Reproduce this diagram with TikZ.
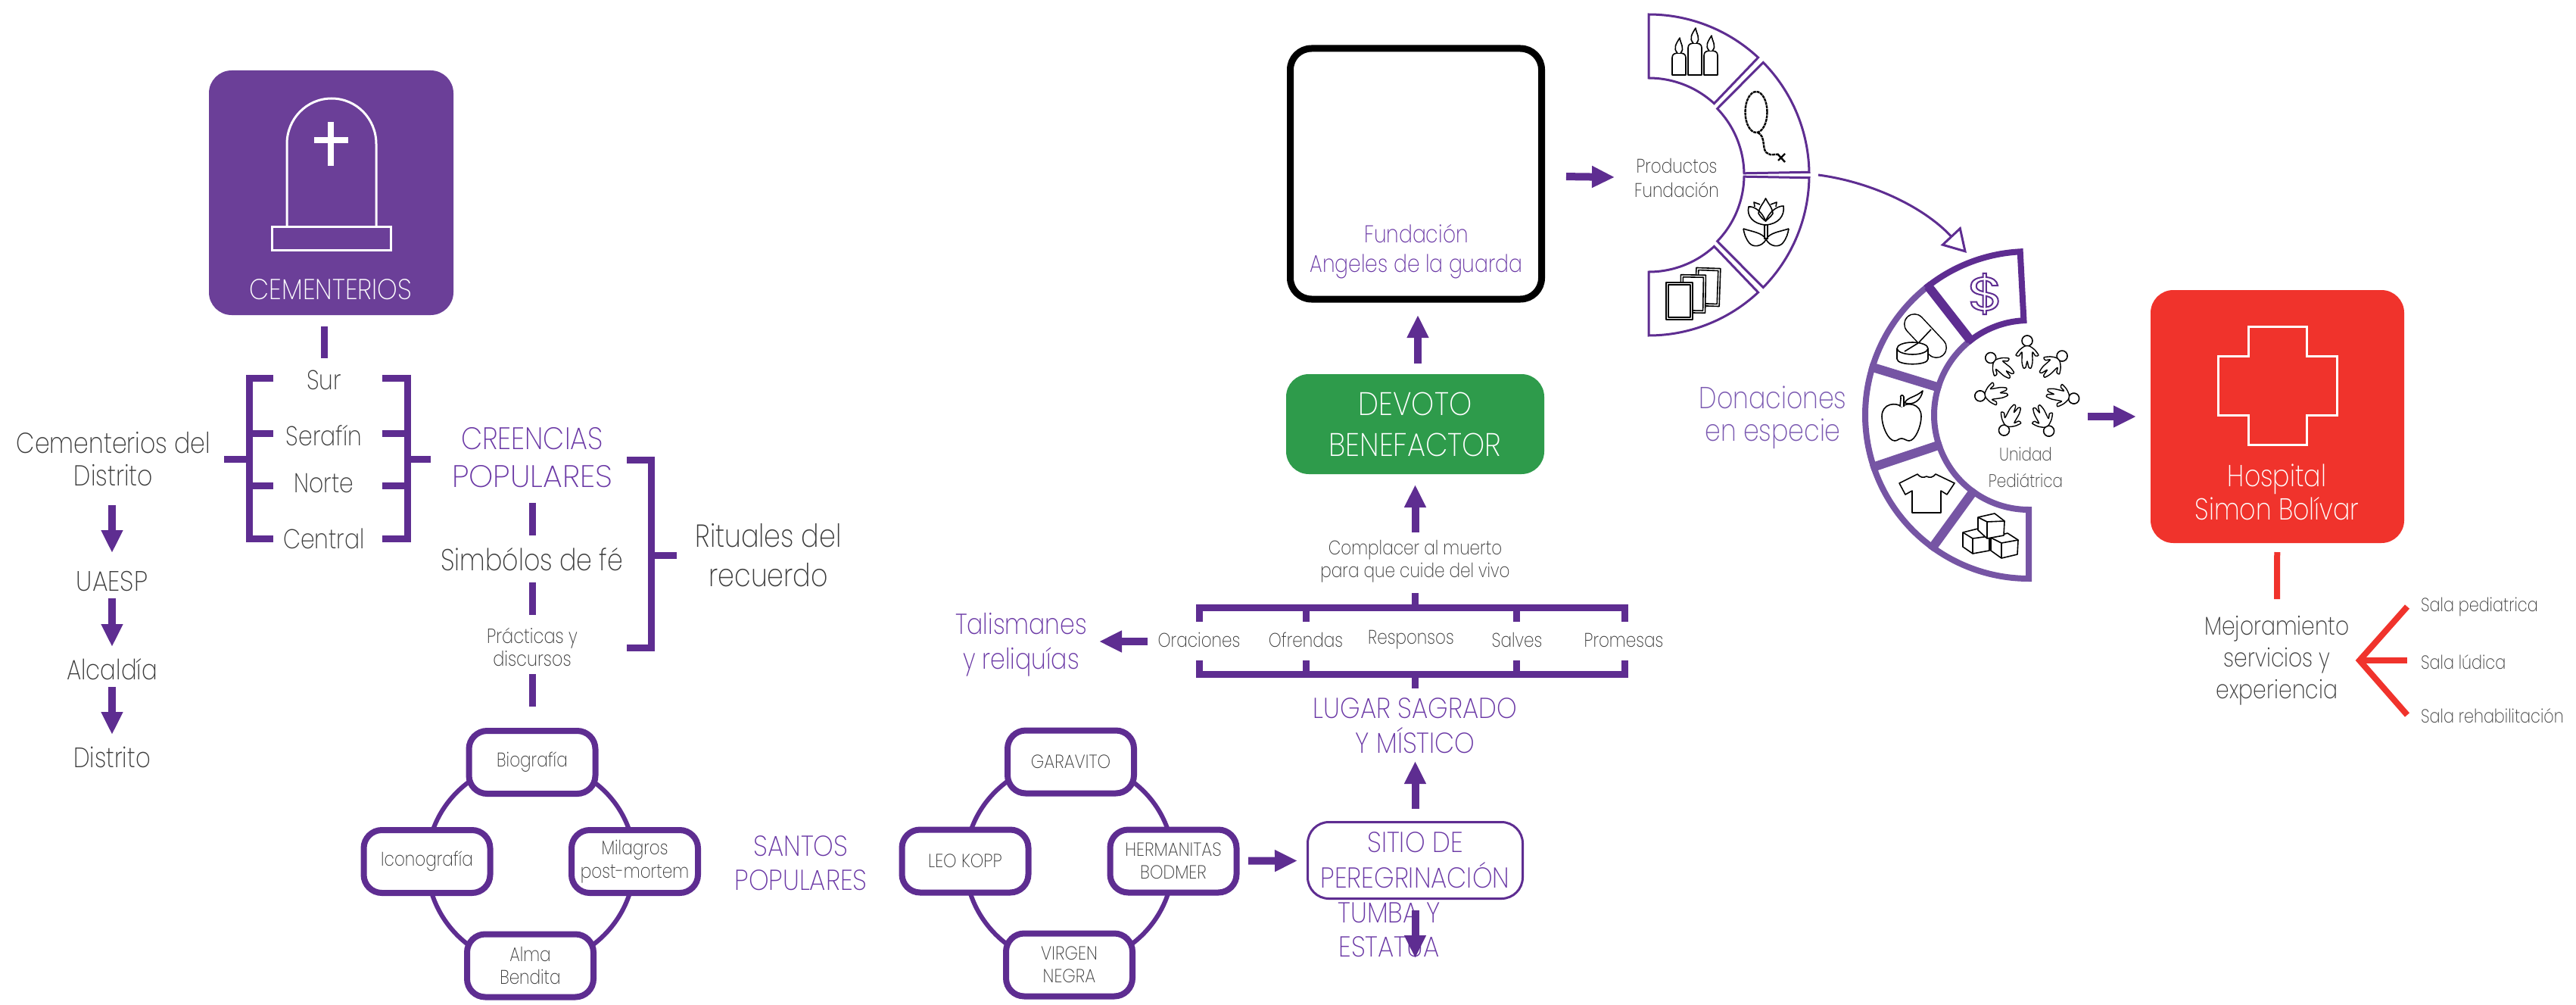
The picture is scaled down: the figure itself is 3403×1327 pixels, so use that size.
\documentclass[tikz,border=0pt]{standalone}
\usepackage{fontspec}
\usetikzlibrary{arrows.meta}
\newfontfamily\lightf{Poppins ExtraLight}[FakeStretch=0.83]
\newfontfamily\capf{Poppins ExtraLight}[FakeStretch=0.89]
\newfontfamily\capwf{Poppins ExtraLight}[FakeStretch=1.0]
\newfontfamily\boldf{Poppins}[FakeStretch=1.25]
\newcommand{\fs}[2]{\lightf\fontsize{#1}{#2}\selectfont}
\newcommand{\fc}[2]{\capf\fontsize{#1}{#2}\selectfont}
\definecolor{dpurple}{HTML}{5E2D91}
\definecolor{mpurple}{HTML}{7655A4}
\definecolor{cempurple}{HTML}{6B3F98}
\definecolor{tpurple}{HTML}{6A38A5}
\definecolor{lpurple}{HTML}{7A58B0}
\definecolor{tgray}{HTML}{3C3C3C}
\definecolor{hred}{HTML}{F0332C}
\definecolor{dgreen}{HTML}{2E9B4B}
\pgfdeclarelayer{behind}
\pgfsetlayers{behind,main}
\tikzset{
  lbl/.style={text=tgray,align=center,inner sep=0pt},
  plbl/.style={text=tpurple,align=center,inner sep=0pt},
  wlbl/.style={text=white,align=center,inner sep=0pt},
  santo/.style={draw=dpurple,line width=8pt,fill=white,rounded corners=24pt,minimum width=167pt,minimum height=83pt,inner sep=0pt,text=tgray,align=center},
  solidbox/.style={draw=none,rounded corners=30pt,inner sep=0pt},
  barrow/.style={draw=dpurple,line width=10pt,-{Triangle[length=30pt,width=27pt,fill=dpurple]}},
  brk/.style={draw=dpurple,line width=9pt,miter limit=10},
  ringline/.style={draw=dpurple,line width=6pt},
  redline/.style={draw=hred,line width=8pt},
  wline/.style={draw=white,line width=3pt},
  icon/.style={draw=black,line width=1.6pt,fill=white,line join=round},
  prodseg/.style={draw=dpurple,line width=3pt,fill=white,miter limit=10},
  donseg/.style={draw=mpurple,line width=8pt,fill=white,miter limit=10},
  donsegd/.style={draw=dpurple,line width=8pt,fill=white,miter limit=10},
}
\newcommand{\annseg}[9]{\draw[#1] plot[domain=#5:#6,samples=30] ({#2+#4*cos(\x)},{#3-#4*sin(\x)}) -- plot[domain=#8:#9,samples=30] ({#2+#7*cos(\x)},{#3-#7*sin(\x)}) -- cycle;}
\newcommand{\ansep}[6]{\draw[#1,line width=12pt] ({#2+#4*cos(#6)},{#3-#4*sin(#6)}) -- ({#2+#5*cos(#6)},{#3-#5*sin(#6)});}
\begin{document}
\begin{tikzpicture}[x=1pt,y=-1pt]
\useasboundingbox (0,0) rectangle (3403,1327);
% ---------- Cementerios
\node[solidbox,fill=cempurple,minimum width=323pt,minimum height=323pt] (cem) at (437.5,254.5) {};
\draw[wline,line join=miter] (379,299) -- (379,190) .. controls (379,157) and (405,130) .. (438,130) .. controls (471,130) and (497,157) .. (497,190) -- (497,299);
\draw[wline] (359,299) rectangle (516,330);
\draw[draw=white,line width=8pt] (437,161) -- (437,219) (415,185) -- (460,185);
\node[wlbl,font=\fc{38}{40}] (cemt) at (437,382) {CEMENTERIOS};
\node[lbl,font=\fs{36}{40}] (sur) at (428,502) {Sur};
\node[lbl,font=\fs{36}{40}] (ser) at (428,575) {Serafín};
\node[lbl,font=\fs{36}{40}] (nor) at (428,638) {Norte};
\node[lbl,font=\fs{36}{40}] (cen) at (428,711) {Central};
\node[lbl,font=\fs{38}{43}] (cdis) at (150,606) {Cementerios del\\Distrito};
\node[lbl,font=\fc{37}{40}] (uae) at (148,768) {UAESP};
\node[lbl,font=\fs{37}{40}] (alc) at (148,884) {Alcaldía};
\node[lbl,font=\fs{37}{40}] (dis) at (148,1000) {Distrito};
\draw[barrow,shorten <=61pt,shorten >=38pt] ([xshift=-2pt]cdis.center) -- (uae.center);
\draw[barrow,shorten <=22pt,shorten >=30pt] (uae.center) -- (alc.center);
\draw[barrow,shorten <=23pt,shorten >=30pt] (alc.center) -- (dis.center);
\draw[brk,shorten <=176.5pt,shorten >=29pt] ([xshift=-9.5pt]cem.center) -- ([yshift=0pt]sur.center);
\coordinate (lb) at (329,606);
\coordinate (rb) at (538,606);
\draw[brk] (361,499) -- (329,499) -- (329,711) -- (361,711);
\draw[brk] (505,499) -- (538,499) -- (538,711) -- (505,711);
\foreach \yy in {572,641} {\draw[brk] (329,\yy) -- (361,\yy); \draw[brk] (505,\yy) -- (538,\yy);}
\node[plbl,font=\fc{41}{50}] (cre) at (703,604) {CREENCIAS\\{\capwf POPULARES}};
\node[lbl,font=\fs{40}{44}] (sim) at (703,739) {Simbólos de fé};
\node[lbl,font=\fs{27}{30}] (pra) at (703,854) {Prácticas y\\discursos};
\node[lbl,font=\fs{42}{52}] (rit) at (1015,733) {Rituales del\\recuerdo};
\draw[brk,shorten >=146pt] (lb) -- (cdis.center);
\draw[brk,shorten >=134pt] (rb) -- ([yshift=-2pt]cre.center);
\draw[brk] (828,607) -- (860,607) -- (860,855) -- (828,855);
\coordinate (bigb) at (860,733);
\draw[brk,shorten >=121pt] (bigb) -- (rit.center);
\draw[brk,shorten <=60pt,shorten >=32pt] (cre.center) -- (sim.center);
\draw[brk,shorten <=30pt,shorten >=42pt] (sim.center) -- (pra.center);
% ---------- Santos rings
\node[santo,font=\fs{26}{30}] (bio) at (703,1006.5) {Biografía};
\node[santo,font=\fs{26}{30}] (ico) at (564,1137.5) {Iconografía};
\node[santo,font=\fs{26}{31}] (mil) at (838.5,1137.5) {Milagros\\post-mortem};
\node[santo,font=\fs{26}{30}] (alm) at (700.5,1275) {Alma\\Bendita};
\node[santo,font=\fc{25}{30}] (gar) at (1414.5,1006) {GARAVITO};
\node[santo,font=\fc{25}{30}] (leo) at (1275,1137) {LEO KOPP};
\node[santo,font=\fc{25}{30}] (her) at (1550,1137) {HERMANITAS\\BODMER};
\node[santo,font=\fc{25}{30}] (vir) at (1412.5,1274) {VIRGEN\\NEGRA};
\begin{pgfonlayer}{behind}
\draw[ringline] (bio.center) to[bend left=45] (mil.center) to[bend left=45] (alm.center) to[bend left=45] (ico.center) to[bend left=45] (bio.center);
\draw[ringline] (gar.center) to[bend left=45] (her.center) to[bend left=45] (vir.center) to[bend left=45] (leo.center) to[bend left=45] (gar.center);
\end{pgfonlayer}
\draw[brk,shorten <=36pt,shorten >=74pt] (pra.center) -- (bio.center);
\node[plbl,font=\fc{38}{45}] (san) at (1058,1140) {SANTOS\\POPULARES};
\node[draw=dpurple,line width=3pt,rounded corners=28pt,minimum width=284pt,minimum height=101pt,inner sep=0pt,text=tpurple,align=center,font=\fc{38}{47}] (sit) at (1869.5,1136) {SITIO DE\\PEREGRINACIÓN};
\node[plbl,font=\fc{38}{45}] (tum) at (1835,1228) {TUMBA Y\\ESTATUA};
\coordinate (tumtip) at (1869.5,1265);
\draw[barrow,shorten <=99pt,shorten >=155.5pt] (her.center) -- (sit.center);
\draw[barrow,shorten <=66pt] (sit.center) -- (tumtip);
\node[plbl,font=\fc{38}{46}] (lug) at (1869.5,958) {LUGAR SAGRADO\\Y MÍSTICO};
\draw[barrow,shorten <=68pt,shorten >=47pt] (sit.center) -- (lug.center);
% ---------- Ritual bar
\coordinate (bart) at (1869.5,802);
\coordinate (barb) at (1869.5,890);
\draw[brk] (1584,821) -- (1584,802) -- (2146,802) -- (2146,821);
\draw[brk] (1584,872) -- (1584,890) -- (2146,890) -- (2146,872);
\foreach \xx in {1725,2003} {\draw[brk] (\xx,802) -- (\xx,821); \draw[brk] (\xx,890) -- (\xx,872);}
\node[lbl,font=\fs{26}{30}] (ora) at (1584,845) {Oraciones};
\node[lbl,font=\fs{26}{30}] (ofr) at (1725,845) {Ofrendas};
\node[lbl,font=\fs{26}{30}] (res) at (1864,845) {Responsos};
\node[lbl,font=\fs{26}{30}] (sal) at (2004,845) {Salves};
\node[lbl,font=\fs{26}{30}] (pro) at (2145,845) {Promesas};
\node[plbl,font=\fs{38}{46}] (tal) at (1349,851) {Talismanes\\y reliquías};
\draw[barrow,shorten <=68pt,shorten >=103pt] ([yshift=-2pt]ora.center) -- ([yshift=4pt]tal.center);
\node[lbl,font=\fs{26}{30}] (com) at (1869.5,741) {Complacer al muerto\\para que cuide del vivo};
\draw[brk,shorten <=42pt] (com.center) -- (bart);
\draw[brk,shorten <=49pt] (lug.center) -- (barb);
% ---------- Devoto, Fundacion
\node[solidbox,fill=dgreen,minimum width=341pt,minimum height=132pt,text=white,align=center,font=\fc{43}{54}] (dev) at (1869.5,560) {DEVOTO\\BENEFACTOR};
\draw[barrow,shorten <=38pt,shorten >=80pt] (com.center) -- (dev.center);
\node[draw=black,line width=9pt,rounded corners=28pt,minimum width=332pt,minimum height=331pt,inner sep=0pt] (fun) at (1870.5,229.5) {};
\node[plbl,font=\fs{32}{39}] (funt) at (1871,332) {Fundación\\Angeles de la guarda};
\draw[barrow,shorten <=80pt,shorten >=186.5pt] ([xshift=3.5pt]dev.center) -- ([xshift=2.5pt]fun.center);
% ---------- Productos ring
\node[lbl,font=\fs{26}{32}] (prd) at (2215,235) {Productos\\Fundación};
\draw[barrow,shorten <=198.5pt,shorten >=82pt] ([yshift=-1pt]fun.center) -- (prd.center);
\annseg{prodseg}{2178}{231}{212}{90}{47}{128}{47.5}{90}
\annseg{prodseg}{2178}{231}{212}{44.5}{1}{126}{1}{44}
\annseg{prodseg}{2178}{231}{212}{-1}{-44.5}{126}{-44}{-1}
\annseg{prodseg}{2178}{231}{212}{-47}{-90}{128}{-90}{-47.5}
% candles
\foreach \cx/\ty/\tp in {2218/70/50,2239/57/37,2260/67/47} {
  \draw[icon] (\cx-9,99) -- (\cx-9,\ty+6) .. controls (\cx-9,\ty+1) and (\cx-5,\ty) .. (\cx,\ty) .. controls (\cx+5,\ty) and (\cx+9,\ty+1) .. (\cx+9,\ty+6) -- (\cx+9,99) -- cycle;
  \draw[icon] (\cx-2,\ty) .. controls (\cx-8,\ty-6) and (\cx-4,\ty-12) .. (\cx+1,\tp) .. controls (\cx+2,\ty-12) and (\cx+8,\ty-6) .. (\cx+2,\ty);
}
% rosary
\draw[draw=black,line width=2.4pt,dash pattern=on 4pt off 0.8pt] (2320,148) ellipse [x radius=14.5pt,y radius=27pt];
\draw[draw=black,line width=2.4pt,dash pattern=on 4pt off 0.8pt] (2322,175) .. controls (2334,180) and (2326,200) .. (2336,203) .. controls (2340,206) and (2344,203) .. (2349,204);
\draw[draw=black,line width=2.4pt] (2348,203) -- (2358,214) (2358,203) -- (2349,212);
% tulip
\draw[icon] (2318,273) -- (2317,267) -- (2325,270) (2346,273) -- (2347,267) -- (2339,270);
\draw[icon] (2323,282) .. controls (2324,273) and (2330,268) .. (2332.5,262) .. controls (2335,268) and (2341,273) .. (2342,282) .. controls (2338,288) and (2334,290) .. (2332.5,292) .. controls (2330,290) and (2327,288) .. (2323,282);
\draw[icon,fill=none] (2332.5,297) .. controls (2316,296) and (2307,285) .. (2310,273) .. controls (2318,272) and (2328,280) .. (2332.5,292) .. controls (2337,280) and (2347,272) .. (2356,272) .. controls (2358,285) and (2349,296) .. (2332.5,297);
\draw[icon,fill=none] (2331,297) -- (2331,316) (2335,297) -- (2335,316);
\draw[icon,fill=none] (2303,302) .. controls (2315,306) and (2328,307) .. (2333,316) .. controls (2328,326) and (2316,327) .. (2311,321) .. controls (2306,315) and (2304,308) .. (2303,302);
\draw[icon,fill=none] (2363,302) .. controls (2351,306) and (2338,307) .. (2333,316) .. controls (2338,326) and (2350,327) .. (2355,321) .. controls (2360,315) and (2362,308) .. (2363,302);
% cards
\foreach \xa/\ya/\xb/\yb/\rr in {2240/354/2272/404/2,2220/363/2253/413/1,2201/373/2236/422/0} {
  \draw[icon,rotate around={-\rr:({(\xa+\xb)/2},{(\ya+\yb)/2})}] (\xa,\ya) rectangle (\xb,\yb);
  \draw[icon,rotate around={-\rr:({(\xa+\xb)/2},{(\ya+\yb)/2})}] (\xa+3,\ya+3) rectangle (\xb-3,\yb-3);
}
% ---------- Donaciones ring
\annseg{donseg}{2680}{548}{216}{128}{163}{125}{163}{128}
\annseg{donseg}{2680}{548}{216}{163}{198.5}{125}{198.5}{163}
\annseg{donseg}{2680}{548}{216}{198.5}{234}{125}{234}{198.5}
\annseg{donseg}{2680}{548}{216}{234}{270}{125}{270}{234}
\ansep{draw=mpurple}{2680}{548}{125}{216}{163}
\ansep{draw=mpurple}{2680}{548}{125}{216}{198.5}
\ansep{draw=mpurple}{2680}{548}{125}{216}{234}
\annseg{donsegd}{2680}{548}{216}{93}{128}{125}{128}{93}
\ansep{draw=dpurple}{2680}{548}{125}{216}{128}
% dollar
\node[text=dpurple,inner sep=0pt,font=\boldf\fontsize{62}{62}\selectfont] (dol) at (2623,388) {\special{pdf:code 1 Tr 2 w}\$\special{pdf:code 0 Tr 1 w}};
% pills
\draw[draw=black,line width=28pt,line cap=round] (2529,428) -- (2558,459);
\draw[draw=white,line width=25pt,line cap=round] (2529,428) -- (2558,459);
\draw[icon] (2535,452) -- (2551,435);
\draw[icon] (2506,460) -- (2506,474) .. controls (2506,483) and (2547,483) .. (2547,474) -- (2547,460);
\draw[icon] (2526.5,460) ellipse [x radius=20.5pt,y radius=8pt];
\draw[icon] (2516,464) -- (2534,453);
% apple
\draw[icon] (2512,537) .. controls (2505,531) and (2486,532) .. (2486,550) .. controls (2486,562) and (2494,582) .. (2503,582) .. controls (2507,582) and (2508,579) .. (2512,579) .. controls (2516,579) and (2518,582) .. (2522,582) .. controls (2530,582) and (2538,563) .. (2538,550) .. controls (2538,532) and (2519,531) .. cycle;
\draw[icon] (2510,537) -- (2511,526) .. controls (2509,522) and (2514,520) .. (2515,524) -- (2515,537);
\draw[icon] (2516,532) .. controls (2520,524) and (2530,525) .. (2540,516) .. controls (2538,528) and (2528,536) .. (2516,532);
% shirt
\draw[icon] (2509,638) -- (2533,626) .. controls (2537,631) and (2541,631) .. (2545,629) .. controls (2549,631) and (2553,631) .. (2557,626) -- (2582,638) -- (2572,653) -- (2564,648) -- (2564,677) -- (2526,677) -- (2526,648) -- (2517,653) -- cycle;
% cubes
\foreach \aa/\ab/\ac/\ad/\ae/\af/\ag/\ah/\ai/\aj/\ak/\al/\am/\an in {2593/703/2613/698/2628/708/2628/727/2606/731/2593/722/2606/711,2630/710/2652/704/2666/713/2665/732/2644/737/2630/727/2644/717,2613/683/2635/678/2648/688/2647/707/2625/711/2613/700/2625/689} {
  \draw[icon] (\aa,\ab) -- (\ac,\ad) -- (\ae,\af) -- (\ag,\ah) -- (\ai,\aj) -- (\ak,\al) -- cycle;
  \draw[icon,fill=none] (\aa,\ab) -- (\am,\an) -- (\ae,\af) (\am,\an) -- (\ai,\aj);
}
% children
\foreach \a in {0,47,102,153,209,261,310} {
  \begin{scope}[shift={(2678,513)},rotate=-\a,shift={(0,-63)}]
    \draw[icon] (0,0) circle [radius=7pt];
    \draw[icon,line width=1.4pt] plot[smooth cycle,tension=.45] coordinates {(-3,7) (-10,12) (-15,19) (-11,20) (-7,15) (-7,28) (-5,36) (-2,35) (0,27) (2,35) (5,36) (7,28) (7,15) (11,20) (15,19) (10,12) (3,7)};
  \end{scope}
}
\node[lbl,font=\fs{24}{35}] (uni) at (2676,617) {Unidad\\Pediátrica};
\node[text=lpurple,align=center,inner sep=0pt,font=\fs{40}{43}] (don) at (2342,551) {Donaciones\\en especie};
% curved arrow
\coordinate (cva) at (2402,231);
\coordinate (cvb) at (2598,334);
\draw[draw=dpurple,line width=3pt,-{Triangle[open,length=31pt,width=36pt,fill=white]}] (cva) .. controls (2470,240) and (2540,272) .. (cvb);
% ---------- Hospital
\node[solidbox,fill=hred,minimum width=335pt,minimum height=334pt] (hos) at (3008.5,550) {};
\coordinate (unic) at (2680,550);
\draw[barrow,shorten <=78pt,shorten >=186.5pt] (unic) -- (hos.center);
\draw[wline,miter limit=10] (2970,431) -- (3047,431) -- (3047,470) -- (3087,470) -- (3087,548) -- (3047,548) -- (3047,587) -- (2970,587) -- (2970,548) -- (2930,548) -- (2930,470) -- (2970,470) -- cycle;
\node[wlbl,font=\fs{40}{44}] (host) at (3008,650) {Hospital\\Simon Bolívar};
\node[lbl,font=\fs{34}{42}] (mej) at (3008,872) {Mejoramiento\\servicios y\\experiencia};
\draw[redline,shorten <=179pt,shorten >=81pt] (hos.center) -- (mej.center);
\coordinate (apex) at (3117,872);
\coordinate (fa) at (3180,801);
\coordinate (fb) at (3180,872);
\coordinate (fc) at (3180,944);
\draw[redline] (fa) -- (apex) -- (fc);
\draw[redline] (apex) -- (fb);
\node[lbl,anchor=west,font=\fs{25}{28}] (spe) at (3198,801) {Sala pediatrica};
\node[lbl,anchor=west,font=\fs{25}{28}] (slu) at (3198,874) {Sala lúdica};
\node[lbl,anchor=west,font=\fs{25}{28}] (sre) at (3198,945) {Sala rehabilitación};
\end{tikzpicture}
\end{document}
